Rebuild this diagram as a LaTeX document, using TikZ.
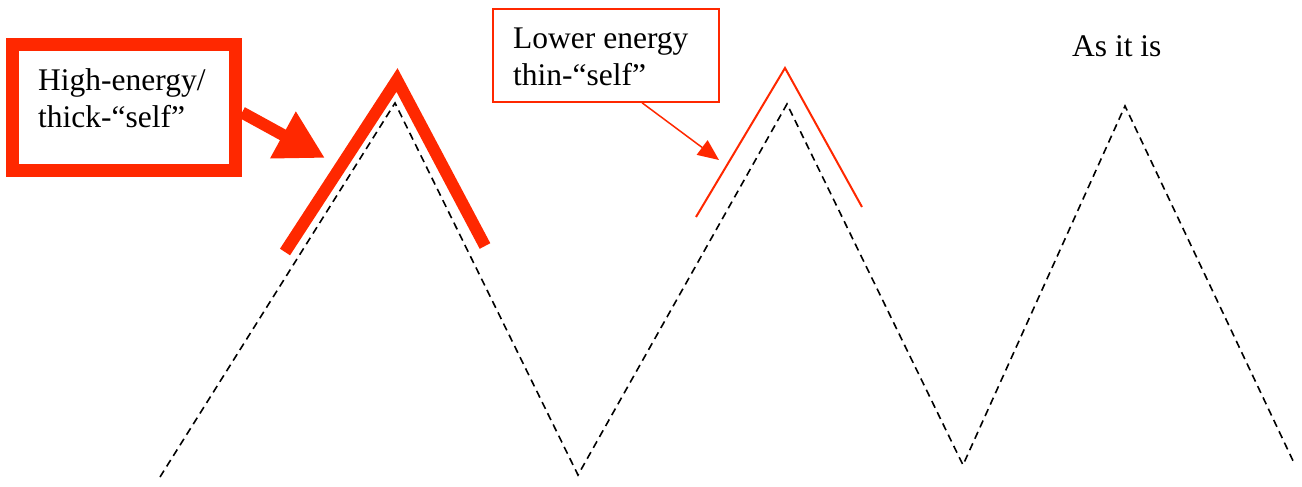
\documentclass[tikz,border=0pt]{standalone}
\usepackage{fontspec}
\setmainfont{Liberation Serif}
\usetikzlibrary{arrows.meta}
\definecolor{selfred}{RGB}{255,40,0}

\begin{document}
\begin{tikzpicture}[x=1pt,y=-1pt,
  thickbox/.style={draw=selfred,line width=13pt,minimum width=223pt,minimum height=126pt,inner sep=0pt},
  thinbox/.style={draw=selfred,line width=1.5pt,minimum width=226pt,minimum height=93pt,inner sep=0pt},
  boxtext/.style={align=left,inner sep=0pt,font=\fontsize{31.5}{36.5}\selectfont},
  fatarrow/.style={selfred,line width=12pt,-{Triangle[length=48pt,width=50pt]}},
  thinarrow/.style={selfred,line width=1.5pt,-{Triangle[length=21pt,width=18pt]}},
  asitis/.style={black,line width=1.6pt,dash pattern=on 7.5pt off 5pt}]
  \useasboundingbox (0,0) rectangle (1302,487);

  % the shape as it is
  \draw[asitis] (160,477) -- (395,103) -- (578,475) -- (787,104) -- (963,465) -- (1125,106) -- (1295,465);

  % thick and thin self
  \draw[selfred,line width=12pt,miter limit=20] (285,252) -- (397,80) -- (485,246);
  \draw[selfred,line width=2pt] (696,217) -- (785,68) -- (862,207);

  \node[thickbox] (hibox) at (124,107.5) {};
  \node[boxtext,anchor=base west] (hitext) at (38,127) {High-energy/\\thick-“self”};
  \node[thinbox] (lobox) at (606,55.5) {};
  \node[boxtext,anchor=base west] (lotext) at (513,85) {Lower energy\\thin-“self”};
  \node[boxtext,anchor=base west] (astext) at (1072,57) {As it is};

  \coordinate (hitip) at (325,158);
  \coordinate (lotip) at (719,160);
  \draw[fatarrow] ([yshift=-5pt]hibox.east) -- (hitip);
  \draw[thinarrow] ([xshift=36pt]lobox.south) -- (lotip);
\end{tikzpicture}
\end{document}
